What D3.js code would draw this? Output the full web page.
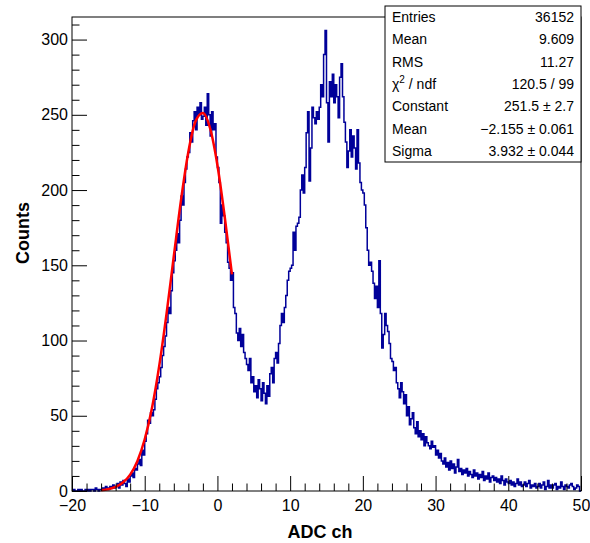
<!DOCTYPE html>
<html>
<head>
<meta charset="utf-8">
<script src="https://cdn.jsdelivr.net/npm/d3@7.9.0/dist/d3.min.js"></script>
<style>
  body { margin: 0; background: #fff; }
  svg { display: block; font-family: "Liberation Sans", Arial, sans-serif; }
</style>
</head>
<body>
<div id="vis"></div>
<script>
// histogram: 350 bins of 0.2 from -20 to 50
const binLow = -20;
const binWidth = 0.2;
const counts = [
  0, 1, 0, 0, 1, 0, 1, 0, 0, 1,
  0, 1, 0, 1, 1, 0, 2, 1, 0, 1,
  1, 2, 1, 3, 2, 1, 3, 2, 4, 2,
  3, 5, 2, 6, 4, 7, 5, 3, 8, 6,
  10, 12, 9, 15, 14, 18, 21, 17, 27, 24,
  33, 38, 47, 45, 52, 50, 54, 61, 68, 72,
  76, 82, 90, 96, 103, 112, 122, 118, 133, 145,
  153, 160, 171, 165, 180, 196, 190, 205, 214, 222,
  225, 238, 232, 246, 252, 240, 255, 250, 258, 247,
  249, 255, 243, 264, 250, 236, 252, 240, 244, 222,
  215, 205, 178, 190, 183, 172, 165, 152, 148, 140,
  145, 122, 118, 105, 100, 108, 96, 104, 92, 88,
  84, 80, 88, 72, 76, 66, 70, 62, 74, 68,
  60, 72, 65, 58, 70, 63, 78, 82, 72, 88,
  92, 85, 98, 110, 118, 112, 122, 130, 140, 146,
  148, 150, 172, 160, 176, 178, 182, 200, 210, 198,
  215, 238, 252, 206, 228, 255, 248, 244, 252, 247,
  255, 270, 262, 290, 306, 258, 232, 272, 262, 277,
  258, 270, 262, 248, 275, 284, 262, 245, 232, 215,
  226, 240, 222, 236, 228, 214, 240, 218, 205, 200,
  198, 190, 175, 160, 150, 152, 146, 138, 128, 136,
  122, 153, 118, 95, 104, 118, 110, 106, 98, 88,
  86, 80, 82, 72, 68, 62, 72, 66, 58, 64,
  50, 56, 44, 48, 52, 42, 38, 46, 36, 40,
  34, 38, 30, 36, 32, 30, 28, 33, 29, 30,
  24, 27, 22, 25, 20, 18, 22, 16, 19, 14,
  20, 15, 18, 12, 16, 21, 13, 15, 11, 14,
  12, 15, 10, 13, 11, 9, 14, 10, 12, 8,
  11, 9, 13, 7, 10, 8, 12, 6, 9, 10,
  7, 9, 6, 8, 5, 10, 7, 4, 8, 6,
  5, 7, 4, 6, 3, 5, 8, 4, 6, 3,
  4, 6, 3, 5, 7, 2, 4, 3, 5, 2,
  3, 5, 2, 4, 6, 1, 3, 7, 2, 4,
  2, 4, 5, 1, 3, 2, 6, 3, 1, 4,
  3, 2, 4, 5, 3, 1, 2, 4, 3, 0
];

// gaussian fit curve
const fitX = [-16, -15, -14, -13, -12, -11, -10, -9, -8, -7, -6, -5, -4, -3, -2, -1, 0, 1, 2];
const fitY = [0.5, 1.2, 2.7, 5.6, 10.9, 20.0, 34.4, 55.2, 83.3, 117.7, 156.0, 193.6, 225.3, 245.8, 251.2, 240.9, 216.5, 182.3, 143.9];

const statLabels = ["Entries", "Mean", "RMS", "chi2", "Constant", "Mean", "Sigma"];
const statValues = ["36152", "9.609", "11.27", "120.5 / 99", "251.5 \u00b1 2.7", "\u22122.155 \u00b1 0.061", "3.932 \u00b1 0.044"];

const xMajor = [-20, -10, 0, 10, 20, 30, 40, 50];
const yMajor = [0, 50, 100, 150, 200, 250, 300];

const width = 590;
const height = 543;
const margin = { top: 17, right: 9, bottom: 52, left: 72 };

const xScale = d3.scaleLinear().domain([-20, 50]).range([margin.left, width - margin.right]);
const yScale = d3.scaleLinear().domain([0, 315]).range([height - margin.bottom, margin.top]);

const svg = d3.select("#vis").append("svg").attr("width", width).attr("height", height);

// histogram outline
const steps = [];
counts.forEach((c, i) => {
  steps.push([binLow + i * binWidth, c]);
  steps.push([binLow + (i + 1) * binWidth, c]);
});
const histLine = d3.line().x((d) => xScale(d[0])).y((d) => yScale(d[1]));
svg.append("path")
  .attr("d", histLine(steps))
  .attr("fill", "none")
  .attr("stroke", "#000099")
  .attr("stroke-width", 1.5);

// fit
const fitLine = d3.line()
  .x((d, i) => xScale(fitX[i]))
  .y((d) => yScale(d))
  .curve(d3.curveMonotoneX);
svg.append("path")
  .attr("d", fitLine(fitY))
  .attr("fill", "none")
  .attr("stroke", "#ff0000")
  .attr("stroke-width", 2.5);

// frame
svg.append("rect")
  .attr("x", margin.left)
  .attr("y", margin.top)
  .attr("width", width - margin.left - margin.right)
  .attr("height", height - margin.top - margin.bottom)
  .attr("fill", "none")
  .attr("stroke", "#000")
  .attr("stroke-width", 1);

// x axis
const xMinor = d3.range(-20, 50.01, 2).filter((v) => v % 10 !== 0);
const gx = svg.append("g").attr("transform", `translate(0,${height - margin.bottom})`);
gx.call(d3.axisBottom(xScale).tickValues(xMajor).tickSizeInner(-15).tickSizeOuter(0).tickPadding(9));
gx.append("g").call(d3.axisBottom(xScale).tickValues(xMinor).tickSizeInner(-7.5).tickSizeOuter(0).tickFormat(""));
gx.selectAll(".domain").remove();
gx.selectAll("text").attr("font-size", 16).attr("fill", "#000").attr("font-family", "Liberation Sans, Arial, sans-serif");

// y axis
const yMinor = d3.range(0, 315, 10).filter((v) => v % 50 !== 0);
const gy = svg.append("g").attr("transform", `translate(${margin.left},0)`);
gy.call(d3.axisLeft(yScale).tickValues(yMajor).tickSizeInner(-15).tickSizeOuter(0).tickPadding(4));
gy.append("g").call(d3.axisLeft(yScale).tickValues(yMinor).tickSizeInner(-7.5).tickSizeOuter(0).tickFormat(""));
gy.selectAll(".domain").remove();
gy.selectAll("text").attr("font-size", 16).attr("fill", "#000").attr("font-family", "Liberation Sans, Arial, sans-serif");

// axis titles
svg.append("text")
  .attr("x", 320)
  .attr("y", 538)
  .attr("text-anchor", "middle")
  .attr("font-size", 18)
  .attr("font-weight", "bold")
  .text("ADC ch");

svg.append("text")
  .attr("transform", "translate(29,233) rotate(-90)")
  .attr("text-anchor", "middle")
  .attr("font-size", 18)
  .attr("font-weight", "bold")
  .text("Counts");

// stats box
const box = { x: 385, y: 6, w: 196, h: 156 };
svg.append("rect")
  .attr("x", box.x)
  .attr("y", box.y)
  .attr("width", box.w)
  .attr("height", box.h)
  .attr("fill", "#fff")
  .attr("stroke", "#000")
  .attr("stroke-width", 1);

const rowH = box.h / statLabels.length;
statLabels.forEach((lab, i) => {
  const y = box.y + rowH * (i + 0.5) + 5;
  const t = svg.append("text").attr("x", box.x + 7).attr("y", y).attr("font-size", 14);
  if (lab === "chi2") {
    t.append("tspan").text("\u03c7");
    t.append("tspan").attr("dy", -6).attr("font-size", 10).text("2");
    t.append("tspan").attr("dy", 6).text(" / ndf");
  } else {
    t.text(lab);
  }
  svg.append("text")
    .attr("x", box.x + box.w - 7)
    .attr("y", y)
    .attr("text-anchor", "end")
    .attr("font-size", 14)
    .text(statValues[i]);
});
</script>
</body>
</html>
